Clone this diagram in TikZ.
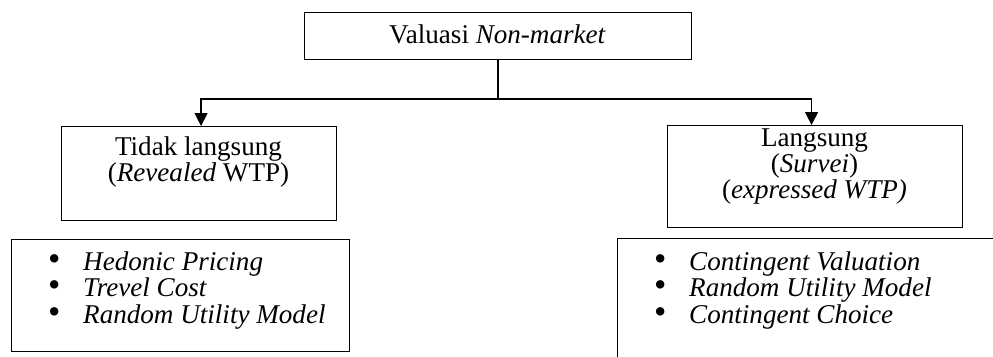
\documentclass[tikz,border=0pt]{standalone}
\usepackage{fontspec}
\setmainfont{Liberation Serif}
\usetikzlibrary{arrows.meta}
\newcommand{\mybul}{\makebox[34pt][l]{\hspace{-1pt}\scalebox{1.3}{\textbullet}}}
\begin{document}
\begin{tikzpicture}[x=1pt,y=-1pt,
  box/.style={draw=black,line width=1.1pt,inner sep=0pt,anchor=north west},
  txt/.style={font=\fontsize{27.1}{26}\selectfont,inner sep=0pt,align=center,anchor=base},
  txttight/.style={font=\fontsize{27.1}{21.5}\selectfont,inner sep=0pt,align=center,anchor=base},
  lst/.style={font=\fontsize{27.1}{26.5}\selectfont,inner sep=0pt,align=left,anchor=base west},
  conn/.style={line width=1.4pt},
  arr/.style={conn,-{Triangle[width=13pt,length=13pt]}}]
\clip (0,0) rectangle (993,356);
\useasboundingbox (0,0) rectangle (993,356);
% boxes
\node[box,minimum width=387,minimum height=47] (top) at (304,12) {};
\node[box,minimum width=275,minimum height=94] (lbox) at (61,126) {};
\node[box,minimum width=295,minimum height=102] (rbox) at (667,125) {};
\node[box,minimum width=338,minimum height=112] (llist) at (11,239) {};
\node[box,minimum width=420,minimum height=160] (rlist) at (617,238) {};
% texts (base anchor = baseline of last line)
\node[txt] (ttop) at (497.5,43) {Valuasi \textit{Non-market}};
\node[txt] (tl) at (198.5,181) {Tidak langsung\\(\textit{Revealed} WTP)};
\node[txttight] (tr) at (814.5,198) {Langsung\\(\textit{Survei})\\(\textit{expressed WTP)}};
\node[lst] (ll) at (49,323) {\mybul\textit{Hedonic Pricing}\\\mybul\textit{Trevel Cost}\\\mybul\textit{Random Utility Model}};
\node[lst] (rl) at (655,323) {\mybul\textit{Contingent Valuation}\\\mybul\textit{Random Utility Model}\\\mybul\textit{Contingent Choice}};
% connectors
\draw[conn] (top.south) -- ++(0,39) coordinate (j);
\draw[arr] (j) -| ([xshift=2pt]lbox.north);
\draw[arr] (j) -| ([xshift=-3.5pt]rbox.north);
\end{tikzpicture}
\end{document}
